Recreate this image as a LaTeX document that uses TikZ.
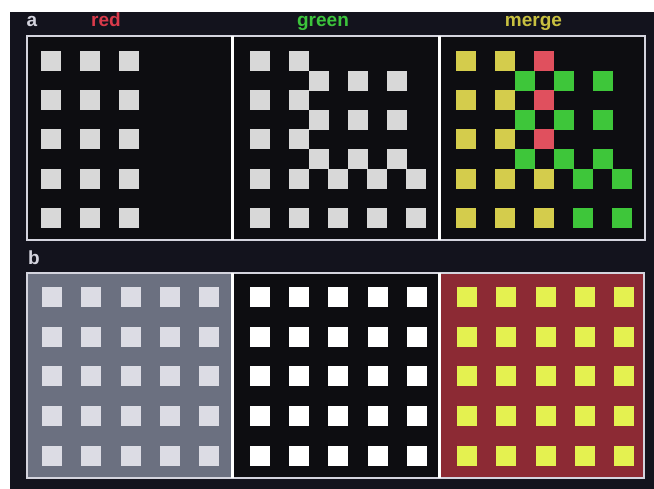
\documentclass[tikz,border=0pt]{standalone}
\usepackage{fontspec}
\setmainfont{Liberation Sans}
\definecolor{bgdark}{HTML}{13131D}
\definecolor{panelblack}{HTML}{0D0D11}
\definecolor{framegray}{HTML}{D4D4DE}
\definecolor{sqgray}{HTML}{D8D8D8}
\definecolor{txtred}{HTML}{D93A4A}
\definecolor{txtgreen}{HTML}{3CC43C}
\definecolor{txtmerge}{HTML}{C8C040}
\definecolor{mgyellow}{HTML}{D4CC4C}
\definecolor{mggreen}{HTML}{3EC63A}
\definecolor{mgred}{HTML}{E0505E}
\definecolor{bluegray}{HTML}{6B7080}
\definecolor{palesq}{HTML}{DCDCE4}
\definecolor{winered}{HTML}{8C2A34}
\definecolor{limesq}{HTML}{E4F150}
\begin{document}
\begin{tikzpicture}[x=1pt, y=-1pt,
  panel/.style={draw=framegray, line width=1.6pt},
  divider/.style={white, line width=3pt},
  lbl/.style={font=\bfseries\fontsize{19}{19}\selectfont, inner sep=0pt, anchor=base}]
\useasboundingbox (0,0) rectangle (654,489);
\fill[bgdark] (10,12) rectangle (654,489);
% labels
\node[lbl, text=framegray] (lbla) at (32,26.5) {a};
\node[lbl, text=txtred] (lblred) at (106,26.5) {red};
\node[lbl, text=txtgreen] (lblgreen) at (323,26.5) {green};
\node[lbl, text=txtmerge] (lblmerge) at (533.5,26.5) {merge};
\node[lbl, text=framegray] (lblb) at (34,265) {b};
% panels a
\draw[panel, fill=panelblack] (27,36) rectangle (645,240);
\draw[divider] (232,36) -- (232,240);
\draw[divider] (439,36) -- (439,240);
% red
\foreach \c in {0,1,2} \foreach \r in {0,...,4}
  \fill[sqgray] (40.5+39.2*\c,51+39.2*\r) rectangle ++(20,20);
% green
\foreach \c in {0,1} \foreach \r in {0,...,4}
  \fill[sqgray] (250+39*\c,51+39.2*\r) rectangle ++(20,20);
\foreach \c in {1.5,2.5,3.5} \foreach \r in {0.5,1.5,2.5}
  \fill[sqgray] (250+39*\c,51+39.2*\r) rectangle ++(20,20);
\foreach \c in {2,3,4} \foreach \r in {3,4}
  \fill[sqgray] (250+39*\c,51+39.2*\r) rectangle ++(20,20);
% merge
\foreach \c in {0,1} \foreach \r in {0,...,4}
  \fill[mgyellow] (456+39*\c,51+39.2*\r) rectangle ++(20,20);
\foreach \r in {3,4}
  \fill[mgyellow] (456+39*2,51+39.2*\r) rectangle ++(20,20);
\foreach \r in {0,1,2}
  \fill[mgred] (456+39*2,51+39.2*\r) rectangle ++(20,20);
\foreach \c in {1.5,2.5,3.5} \foreach \r in {0.5,1.5,2.5}
  \fill[mggreen] (456+39*\c,51+39.2*\r) rectangle ++(20,20);
\foreach \c in {3,4} \foreach \r in {3,4}
  \fill[mggreen] (456+39*\c,51+39.2*\r) rectangle ++(20,20);
% panels b
\draw[panel, fill=panelblack] (27,273) rectangle (644,478);
\fill[bluegray] (27,273) rectangle (232,478);
\fill[winered] (439,273) rectangle (644,478);
\draw[panel] (27,273) rectangle (644,478);
\draw[divider] (232,273) -- (232,478);
\draw[divider] (439,273) -- (439,478);
\foreach \c in {0,...,4} \foreach \r in {0,...,4} {
  \fill[palesq] (42+39.3*\c,287+39.7*\r) rectangle ++(20,20);
  \fill[white] (250+39.2*\c,287+39.7*\r) rectangle ++(20,20);
  \fill[limesq] (457+39.3*\c,287+39.7*\r) rectangle ++(20,20);
}
\end{tikzpicture}
\end{document}
